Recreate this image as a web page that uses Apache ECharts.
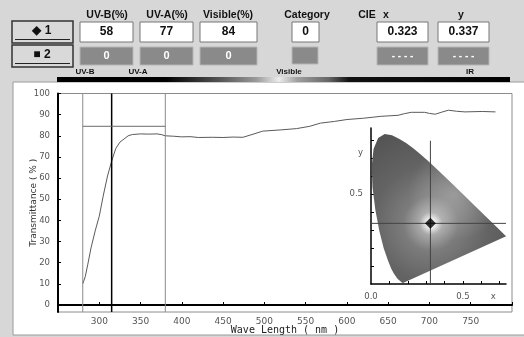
<!DOCTYPE html>
<html>
<head>
<meta charset="utf-8">
<script src="https://cdn.jsdelivr.net/npm/echarts@6/dist/echarts.min.js"></script>
<style>
  html, body { margin: 0; padding: 0; background: #d7d7d7; }
  #chart { width: 524px; height: 337px; }
</style>
</head>
<body>
<div id="chart"></div>
<script>
// transmittance spectrum (wavelength nm -> %)
const waveNm = [280, 283, 286, 290, 295, 300, 305, 310, 315, 320, 325, 330, 335, 340, 350, 360, 370, 375,
  380, 390, 400, 410, 420, 437, 450, 462, 474, 485, 498, 520, 539, 555, 568, 585, 600, 620, 641, 662,
  670, 678, 694, 700, 707, 715, 723, 733, 743, 764, 780]
const transPct = [10, 13.4, 19, 27, 35, 42, 52, 61, 68, 74, 77, 78.5, 80, 80.6, 80.9, 80.8, 80.9, 80.6,
  80, 79.8, 79.5, 79.6, 79.2, 79.3, 79.2, 79.4, 79.3, 80.6, 82.2, 82.8, 83.4, 84.5, 86, 86.8, 87.7, 88.3, 89.2, 89.7,
  90.5, 91.1, 91.1, 90.6, 90.2, 91.2, 92.1, 91.6, 91.3, 91.5, 91.3]

// UV-B / UV-A band edges and the marker level drawn between them
const bandEdges = [280, 315, 380]
const bandLevel = 84.5

const tickNm = [300, 350, 400, 450, 500, 550, 600, 650, 700, 750]
const tickPct = [0, 10, 20, 30, 40, 50, 60, 70, 80, 90, 100]

// CIE 1931 spectral locus
const locusX = [0.1741, 0.1714, 0.1644, 0.1566, 0.1440, 0.1241, 0.1096, 0.0913, 0.0687, 0.0454, 0.0235,
  0.0082, 0.0039, 0.0139, 0.0389, 0.0743, 0.1142, 0.1547, 0.1929, 0.2296, 0.2658, 0.3016, 0.3373, 0.3731,
  0.4441, 0.5125, 0.5752, 0.6270, 0.6915, 0.7190, 0.7347]
const locusY = [0.0050, 0.0051, 0.0109, 0.0177, 0.0297, 0.0578, 0.0868, 0.1327, 0.2007, 0.2950, 0.4127,
  0.5384, 0.6548, 0.7502, 0.8120, 0.8338, 0.8262, 0.8059, 0.7816, 0.7543, 0.7243, 0.6923, 0.6589, 0.6245,
  0.5547, 0.4866, 0.4242, 0.3725, 0.3083, 0.2809, 0.2653]
const ciePoint = [0.323, 0.337]
const cieTicks = [0.1, 0.2, 0.3, 0.4, 0.5, 0.6, 0.7]
const cieTicksY = [0.1, 0.2, 0.3, 0.4, 0.5, 0.6, 0.7, 0.8]

// readouts in the header
const readings1 = ['58', '77', '84']
const readings2 = ['0', '0', '0']
const category1 = '0'
const cie1 = ['0.323', '0.337']

const chart = echarts.init(document.getElementById('chart'))

const yMin = -3.3
const bold = (s) => 'bold ' + s + 'px "Liberation Sans", Arial, sans-serif'

function rect(x, y, w, h, fill, stroke, lw, z) {
  return { type: 'rect', z: z || 0, shape: { x, y, width: w, height: h },
    style: { fill, stroke: stroke || null, lineWidth: lw || 1 }, silent: true }
}
function line(x1, y1, x2, y2, stroke, lw) {
  return { type: 'line', shape: { x1, y1, x2, y2 }, style: { stroke, lineWidth: lw || 1 }, silent: true }
}
function text(x, y, t, font, fill) {
  return { type: 'text', x, y, silent: true,
    style: { text: t, font, fill: fill || '#111', align: 'center', verticalAlign: 'middle',
      textAlign: 'center', textVerticalAlign: 'middle' } }
}

const valueBoxes = [[80, 53], [140, 53], [200, 57]]
const graphic = [
  // white chart panel
  rect(13, 82, 520, 253, '#ffffff', '#9a9a9a', 1, -5),
  // spectrum bar
  { type: 'rect', shape: { x: 57, y: 77, width: 453, height: 5 }, silent: true,
    style: { fill: new echarts.graphic.LinearGradient(0, 0, 1, 0, [
      { offset: 0, color: '#000' }, { offset: 0.24, color: '#000' },
      { offset: 0.36, color: '#555' }, { offset: 0.44, color: '#9a9a9a' },
      { offset: 0.49, color: '#ececec' }, { offset: 0.53, color: '#a0a0a0' },
      { offset: 0.6, color: '#666' }, { offset: 0.645, color: '#111' },
      { offset: 1, color: '#000' }]) } },
  text(85, 72, 'UV-B', bold(8)),
  text(138, 72, 'UV-A', bold(8)),
  text(289, 72, 'Visible', bold(8)),
  text(470, 72, 'IR', bold(8)),
  // header
  text(107, 15, 'UV-B(%)', bold(10.5)),
  text(167, 15, 'UV-A(%)', bold(10.5)),
  text(228, 15, 'Visible(%)', bold(10.5)),
  text(307, 15, 'Category', bold(10.5)),
  text(367, 15, 'CIE', bold(10.5)),
  text(386, 15, 'x', bold(10.5)),
  text(461, 15, 'y', bold(10.5)),
  // buttons
  rect(12, 21, 61, 22, '#d9d9d9', '#333', 1.5),
  line(15, 39.5, 70, 39.5, '#222', 1),
  text(42, 31, '\u25C6 1', bold(12)),
  rect(12, 45, 61, 22, '#d9d9d9', '#333', 1.5),
  line(15, 63.5, 70, 63.5, '#222', 1),
  text(42, 55, '\u25A0 2', bold(12)),
]
valueBoxes.forEach(([x, w], i) => {
  graphic.push(rect(x, 22, w, 20, '#fff', '#777', 1))
  graphic.push(text(x + w / 2, 32, readings1[i], bold(12)))
  graphic.push(rect(x, 47, w, 18, '#8a8a8a', '#b5b5b5', 1))
  graphic.push(text(x + w / 2, 56, readings2[i], bold(11), '#fff'))
})
graphic.push(rect(292, 22, 27, 20, '#fff', '#777', 1))
graphic.push(text(305.5, 32, category1, bold(12)))
graphic.push(rect(292, 47, 26, 17, '#8a8a8a', '#b5b5b5', 1))
;[377, 438].forEach((x, i) => {
  graphic.push(rect(x, 22, 51, 20, '#fff', '#777', 1))
  graphic.push(text(x + 25.5, 32, cie1[i], bold(12)))
  graphic.push(rect(x, 47, 51, 18, '#8a8a8a', '#b5b5b5', 1))
  graphic.push(text(x + 25.5, 56, '- - - -', bold(10), '#fff'))
})

const smallFont = { color: '#555', fontFamily: 'DejaVu Sans', fontSize: 9 }

const vLine = (x, color, width) => ({
  type: 'line', xAxisIndex: 0, yAxisIndex: 0, symbol: 'none', silent: true,
  data: [[x, yMin], [x, 100]], lineStyle: { color, width }
})

const horseshoe = (fill) => ({
  type: 'custom', xAxisIndex: 1, yAxisIndex: 1, silent: true, data: [[0, 0]],
  renderItem: (params, api) => ({
    type: 'polygon',
    shape: { points: locusX.map((x, i) => api.coord([x, locusY[i]])) },
    style: { fill }
  })
})

const option = {
  backgroundColor: '#d7d7d7',
  animation: false,
  graphic,
  grid: [
    { left: 58, right: 12, top: 93.5, bottom: 25, show: true, borderColor: '#8c8c8c', borderWidth: 1,
      outerBoundsMode: 'none' },
    { left: 371, right: 18, top: 128, bottom: 53, outerBoundsMode: 'none' }
  ],
  xAxis: [
    {
      type: 'value', gridIndex: 0, min: 250, max: 800,
      name: 'Wave Length ( nm )', nameLocation: 'middle', nameGap: 13, nameMoveOverlap: false,
      nameTextStyle: { color: '#222', fontFamily: 'DejaVu Sans Mono', fontSize: 10 },
      axisLine: { lineStyle: { color: '#000', width: 2 } },
      axisTick: { inside: true, length: 3, customValues: tickNm.concat([800]), lineStyle: { color: '#000' } },
      axisLabel: Object.assign({ customValues: tickNm, margin: 5 }, smallFont),
      splitLine: { show: false }
    },
    {
      type: 'value', gridIndex: 1, min: 0, max: 0.734,
      axisLine: { lineStyle: { color: '#000', width: 1.5 } },
      axisTick: { inside: true, length: 3, customValues: cieTicks, lineStyle: { color: '#000' } },
      axisLabel: Object.assign({ customValues: [0, 0.5, 0.665], margin: 8,
        formatter: v => (v > 0.6 ? 'x' : v.toFixed(1)) }, smallFont, { fontSize: 8.5 }),
      splitLine: { show: false }
    }
  ],
  yAxis: [
    {
      type: 'value', gridIndex: 0, min: yMin, max: 100,
      name: 'Transmittance ( % )', nameLocation: 'middle', nameGap: 20, nameMoveOverlap: false,
      nameTextStyle: { color: '#333', fontFamily: 'DejaVu Sans', fontSize: 9 },
      axisLine: { show: true, lineStyle: { color: '#000', width: 2 } },
      axisTick: { show: true, inside: true, length: 3, customValues: tickPct, lineStyle: { color: '#000' } },
      axisLabel: Object.assign({ customValues: tickPct, margin: 8 }, smallFont, { fontSize: 8.5 }),
      splitLine: { show: false }
    },
    {
      type: 'value', gridIndex: 1, min: 0, max: 0.867,
      axisLine: { show: true, lineStyle: { color: '#000', width: 1.5 } },
      axisTick: { show: true, inside: true, length: 3, customValues: cieTicksY, lineStyle: { color: '#000' } },
      axisLabel: Object.assign({ customValues: [0.5, 0.728], margin: 8,
        formatter: v => (v > 0.6 ? 'y' : v.toFixed(1)) }, smallFont, { fontSize: 8.5 }),
      splitLine: { show: false }
    }
  ],
  series: [
    {
      type: 'line', xAxisIndex: 0, yAxisIndex: 0, symbol: 'none', silent: true,
      data: waveNm.map((w, i) => [w, transPct[i]]),
      lineStyle: { color: '#5a5a5a', width: 1 }
    },
    vLine(bandEdges[0], '#8a8a8a', 1),
    vLine(bandEdges[2], '#8a8a8a', 1),
    vLine(bandEdges[1], '#000', 1.5),
    {
      type: 'line', xAxisIndex: 0, yAxisIndex: 0, symbol: 'none', silent: true,
      data: [[bandEdges[0], bandLevel], [bandEdges[2], bandLevel]],
      lineStyle: { color: '#6a6a6a', width: 1 }
    },
    horseshoe(new echarts.graphic.RadialGradient(0.44, 0.6, 0.85, [
      { offset: 0, color: '#ffffff' }, { offset: 0.04, color: '#ededed' },
      { offset: 0.1, color: '#a9a9a9' }, { offset: 0.24, color: '#7c7c7c' },
      { offset: 0.5, color: '#646464' }, { offset: 1, color: '#4e4e4e' }])),
    horseshoe(new echarts.graphic.RadialGradient(0.62, 0.4, 0.35, [
      { offset: 0, color: 'rgba(255,255,255,0.28)' }, { offset: 1, color: 'rgba(255,255,255,0)' }])),
    {
      type: 'line', xAxisIndex: 1, yAxisIndex: 1, symbol: 'none', silent: true, z: 4,
      data: [[ciePoint[0], 0], [ciePoint[0], 0.796]], lineStyle: { color: '#444', width: 1 }
    },
    {
      type: 'line', xAxisIndex: 1, yAxisIndex: 1, symbol: 'none', silent: true, z: 4,
      data: [[0, ciePoint[1]], [0.734, ciePoint[1]]], lineStyle: { color: '#444', width: 1 }
    },
    {
      type: 'scatter', xAxisIndex: 1, yAxisIndex: 1, silent: true, z: 5,
      symbol: 'diamond', symbolSize: 11, itemStyle: { color: '#000' },
      data: [ciePoint]
    }
  ]
}

chart.setOption(option)
</script>
</body>
</html>
